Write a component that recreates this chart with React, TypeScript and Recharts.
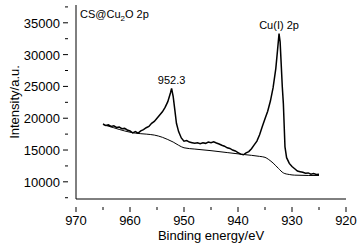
import { LineChart, Line, XAxis, YAxis, ReferenceDot, Label } from "recharts";

// spectrum: binding energy (eV) / intensity (a.u.)
const energy = [
  965, 964.5, 964, 963.5, 963, 962.5, 962, 961.5, 961, 960.5, 960, 959.5, 959, 958.5, 958, 957.5, 957,
  956.5, 956, 955.5, 955, 954.5, 954, 953.5, 953, 952.5, 952.3, 952, 951.7, 951.4, 951, 950.5, 950,
  949.5, 949, 948.5, 948, 947.5, 947, 946.5, 946, 945.5, 945, 944.5, 944, 943.5, 943, 942.5, 942,
  941.5, 941, 940.5, 940, 939.5, 939, 938.5, 938, 937.5, 937, 936.5, 936, 935.5, 935, 934.5, 934,
  933.5, 933, 932.7, 932.4, 932.2, 932, 931.8, 931.6, 931.3, 931, 930.5, 930, 929.5, 929, 928.5,
  928, 927.5, 927, 926.5, 926, 925.5, 925,
];
const intensity = [
  19100, 18850, 18950, 18700, 18800, 18550, 18600, 18350, 18400, 18150, 18000, 17700, 17900, 17650, 18000, 18200, 18500,
  18700, 19200, 19500, 20000, 20500, 21000, 21700, 22600, 24000, 24700, 23400, 21300, 19200, 17900, 16900, 16400,
  16500, 16250, 16150, 16050, 16150, 16000, 16150, 16050, 16250, 16150, 16300, 16100, 15950, 15750, 15600, 15350,
  15250, 15000, 14850, 14600, 14350, 14250, 14550, 14750, 15200, 15800, 16400, 17400, 18700, 19900, 21100, 22700,
  24800, 27800, 30500, 33300, 32000, 28500, 25000, 22300, 15500, 13800, 12900, 12400, 12050, 11700, 11600,
  11500, 11350, 11400, 11200, 11300, 11150, 11200,
];

// Shirley-type background
const bgEnergy = [
  965, 963, 961, 959, 957, 955.5, 954, 953, 952, 951, 950, 948, 945, 942, 939, 936, 935, 934.3, 933.5,
  932.5, 931.6, 930.5, 929.5, 927, 925,
];
const bgIntensity = [
  19000, 18500, 18000, 17650, 17500, 17350, 17000, 16650, 16250, 15750, 15350, 15150, 14900, 14600, 14300, 14000, 13850, 13500, 12950,
  12100, 11400, 11150, 11050, 11000, 11000,
];

const xTicks = [970, 965, 960, 955, 950, 945, 940, 935, 930, 925, 920];
const yTicks = [7500, 10000, 12500, 15000, 17500, 20000, 22500, 25000, 27500, 30000, 32500, 35000, 37500];

const spectrum = energy.map((e, i) => ({ e, v: intensity[i] }));
const background = bgEnergy.map((e, i) => ({ e, v: bgIntensity[i] }));

const font = "'Liberation Sans', Arial, sans-serif";

function XTick({ x, y, payload }: any) {
  const major = payload.value % 10 === 0;
  return (
    <g>
      <line x1={x} y1={y} x2={x} y2={y + (major ? 5 : 3)} stroke="#000" />
      {major && (
        <text x={x} y={y + 18} textAnchor="middle" fontSize={13} fontFamily={font} fill="#000">
          {payload.value}
        </text>
      )}
    </g>
  );
}

function YTick({ x, y, payload }: any) {
  const major = payload.value % 5000 === 0;
  return (
    <g>
      <line x1={x} y1={y} x2={x - (major ? 5 : 3)} y2={y} stroke="#000" />
      {major && (
        <text x={x - 8} y={y + 5} textAnchor="end" fontSize={13} fontFamily={font} fill="#000">
          {payload.value}
        </text>
      )}
    </g>
  );
}

export default function App() {
  return (
    <div style={{ position: "absolute", left: 0, top: 0, width: 361, height: 246, background: "#fff" }}>
      <LineChart width={361} height={246} margin={{ top: 5, right: 15, bottom: 0, left: 0 }}>
        <XAxis
          dataKey="e"
          type="number"
          domain={[920, 970]}
          reversed
          ticks={xTicks}
          interval={0}
          tick={<XTick />}
          tickLine={false}
          axisLine={{ stroke: "#000" }}
          height={47}
          allowDuplicatedCategory={false}
        >
          <Label value="Binding energy/eV" position="insideBottom" offset={6} fontSize={13} fontFamily={font} fill="#000" />
        </XAxis>
        <YAxis
          type="number"
          domain={[7300, 37800]}
          ticks={yTicks}
          interval={0}
          tick={<YTick />}
          tickLine={false}
          axisLine={{ stroke: "#000" }}
          width={76}
        >
          <Label value="Intensity/a.u." angle={-90} position="insideLeft" offset={14} fontSize={13} fontFamily={font} fill="#000" style={{ textAnchor: "middle" }} />
        </YAxis>
        <Line data={background} dataKey="v" stroke="#000" strokeWidth={1} dot={false} isAnimationActive={false} type="monotone" />
        <Line data={spectrum} dataKey="v" stroke="#000" strokeWidth={1.5} dot={false} isAnimationActive={false} type="linear" />
        <ReferenceDot x={952.3} y={24700} r={0} stroke="none" fill="none">
          <Label value="952.3" position="top" offset={4} fontSize={11} fontFamily={font} fill="#000" />
        </ReferenceDot>
        <ReferenceDot x={932.4} y={33300} r={0} stroke="none" fill="none">
          <Label value="Cu(I) 2p" position="top" offset={5} fontSize={11} fontFamily={font} fill="#000" />
        </ReferenceDot>
      </LineChart>
      <div style={{ position: "absolute", left: 80, top: 8, fontSize: 11, fontFamily: font, color: "#000", lineHeight: "12px" }}>
        CS@Cu<sub style={{ fontSize: 8 }}>2</sub>O 2p
      </div>
    </div>
  );
}
